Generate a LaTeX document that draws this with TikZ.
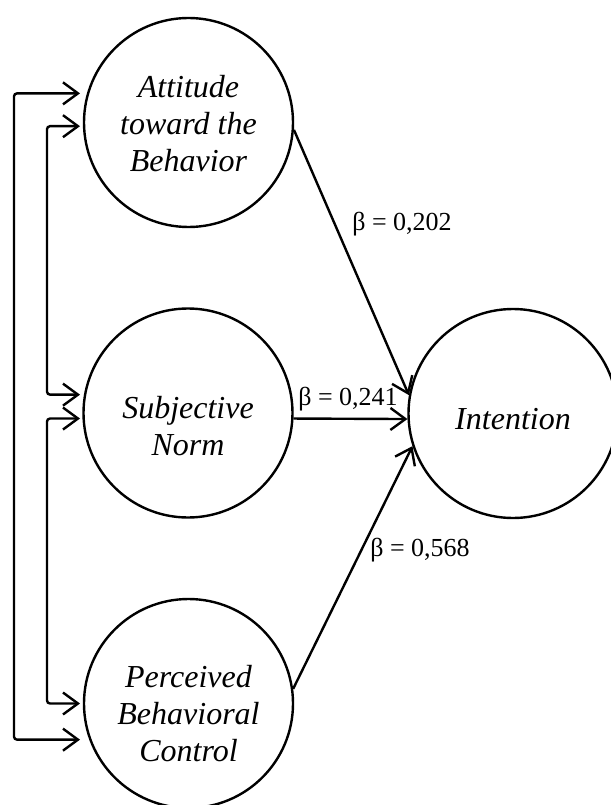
\documentclass[tikz,border=0pt]{standalone}
\usepackage{fontspec}
\setmainfont{Liberation Serif}
\usetikzlibrary{arrows.meta}

\begin{document}
\begin{tikzpicture}[x=1pt, y=-1pt,
        var/.style={draw, circle, line width=2.4pt, minimum size=209pt, inner sep=0pt,
          align=center, font=\fontsize{32}{37}\selectfont\itshape},
        arr/.style={line width=2.4pt, -{Straight Barb[length=15pt, width=22pt]}},
        lnk/.style={line width=2.4pt, rounded corners=3pt,
          {Straight Barb[length=15pt, width=22pt]}-{Straight Barb[length=15pt, width=22pt]}},
        lbl/.style={font=\fontsize{26}{30}\selectfont},
      ]
      \useasboundingbox (0,0) rectangle (610,805);

      % Constructs (text sits a little below the middle)
      \node[var] (att) at (188.5,122.5)
        {\raisebox{-5pt}[\height][\depth]{\begin{tabular}{c}Attitude\\toward the\\Behavior\end{tabular}}};
      \node[var] (sub) at (188,413)
        {\raisebox{-17pt}[\height][\depth]{\begin{tabular}{c}Subjective\\Norm\end{tabular}}};
      \node[var] (pbc) at (188.5,703.5)
        {\raisebox{-14pt}[\height][\depth]{\begin{tabular}{c}Perceived\\Behavioral\\Control\end{tabular}}};
      \node[var] (int) at (513,413.5)
        {\raisebox{-6pt}[\height][\depth]{Intention}};

      % Paths to intention
      \draw[arr] (att.-4) -- (int.170);
      \draw[arr] (sub.-3) -- (int.183);
      \draw[arr] (pbc.8) -- (int.198);

      \node[lbl] (b202) at (402,224) {β = 0,202};
      \node[lbl] (b241) at (348,399) {β = 0,241};
      \node[lbl] (b568) at (420,550) {β = 0,568};

      % Correlations on the left
      \coordinate (lft) at (80,0);
      \draw[lnk] (att.164 -| lft) -- ++(-66,0) |- (pbc.200 -| lft);
      \draw[lnk] (att.182 -| lft) -- ++(-33,0) |- (sub.170 -| lft);
      \draw[lnk] (sub.183 -| lft) -- ++(-33,0) |- (pbc.180 -| lft);
    \end{tikzpicture}
\end{document}
